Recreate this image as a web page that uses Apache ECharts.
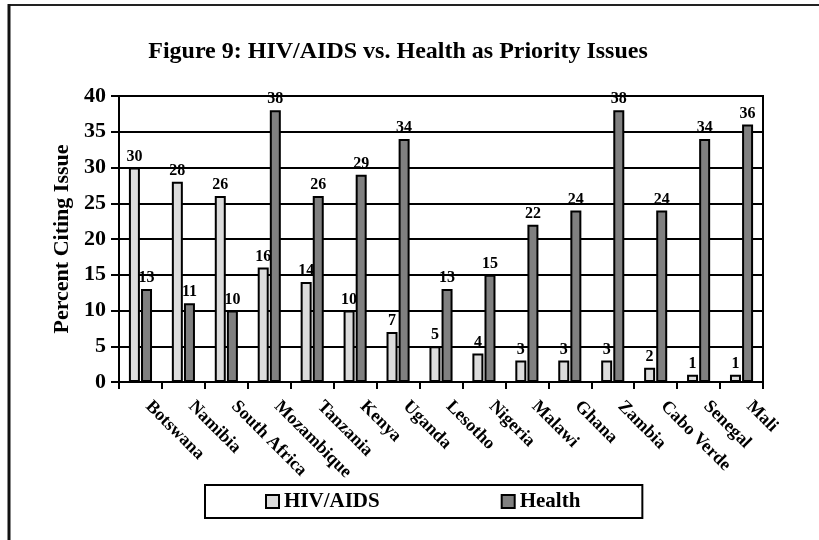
<!DOCTYPE html>
<html>
<head>
<meta charset="utf-8">
<script src="https://cdn.jsdelivr.net/npm/echarts@6/dist/echarts.min.js"></script>
<style>
html,body{margin:0;padding:0;background:#fff;}
#chart{width:819px;height:540px;}
</style>
</head>
<body>
<div id="chart"></div>
<script>
const categories = ["Botswana","Namibia","South Africa","Mozambique","Tanzania","Kenya","Uganda","Lesotho","Nigeria","Malawi","Ghana","Zambia","Cabo Verde","Senegal","Mali"];
const hivAids = [30,28,26,16,14,10,7,5,4,3,3,3,2,1,1];
const health = [13,11,10,38,26,29,34,13,15,22,24,38,24,34,36];
const seriesNames = ["HIV/AIDS","Health"];
const titleText = "Figure 9: HIV/AIDS vs. Health as Priority Issues";
const yAxisName = "Percent Citing Issue";

const FONT = "'Liberation Serif','Times New Roman',serif";
const chart = echarts.init(document.getElementById('chart'), null, {renderer:'canvas'});
const labelStyle = {show:true, position:'top', distance:3, color:'#000', fontFamily:FONT, fontWeight:'bold', fontSize:16};
chart.setOption({
  animation:false,
  backgroundColor:'#fff',
  title:{
    text:titleText, left:393, top:35, textAlign:'center',
    textStyle:{fontFamily:FONT, fontWeight:'bold', fontSize:24, color:'#000'}
  },
  graphic:[
    {type:'line', shape:{x1:8,y1:5,x2:819,y2:5}, style:{stroke:'#222', lineWidth:2}},
    {type:'line', shape:{x1:9,y1:4,x2:9,y2:540}, style:{stroke:'#111', lineWidth:3}}
  ],
  grid:{left:119, right:56, top:96, bottom:158, show:true, borderColor:'#000', borderWidth:2},
  legend:{
    data:seriesNames, left:205, top:485,
    orient:'horizontal',
    padding:[6,62,6,60], itemGap:121, itemWidth:13, itemHeight:13,
    borderColor:'#000', borderWidth:2,
    textStyle:{fontFamily:FONT, fontWeight:'bold', fontSize:21, color:'#000'},
    icon:'rect'
  },
  xAxis:{
    type:'category', data:categories,
    axisLine:{lineStyle:{color:'#000', width:2}},
    axisTick:{show:true, length:7, lineStyle:{color:'#000', width:2}},
    axisLabel:{rotate:-45, interval:0, margin:14, padding:[0,0,0,11], fontFamily:FONT, fontWeight:'bold', fontSize:18, color:'#000'}
  },
  yAxis:{
    type:'value', min:0, max:40, interval:5,
    name:yAxisName, nameLocation:'middle', nameGap:34, nameRotate:90,
    nameTextStyle:{fontFamily:FONT, fontWeight:'bold', fontSize:22, color:'#000'},
    axisLine:{show:true, lineStyle:{color:'#000', width:2}},
    axisTick:{show:true, length:8, lineStyle:{color:'#000', width:2}},
    axisLabel:{margin:13, fontFamily:FONT, fontWeight:'bold', fontSize:22, color:'#000'},
    splitLine:{show:true, lineStyle:{color:'#000', width:2}}
  },
  series:[
    {name:seriesNames[0], type:'bar', data:hivAids, barWidth:11, barGap:'10%',
     itemStyle:{color:'#dcdcdc', borderColor:'#000', borderWidth:2}, label:labelStyle},
    {name:seriesNames[1], type:'bar', data:health, barWidth:11,
     itemStyle:{color:'#808080', borderColor:'#000', borderWidth:2}, label:labelStyle}
  ]
});
</script>
</body>
</html>
